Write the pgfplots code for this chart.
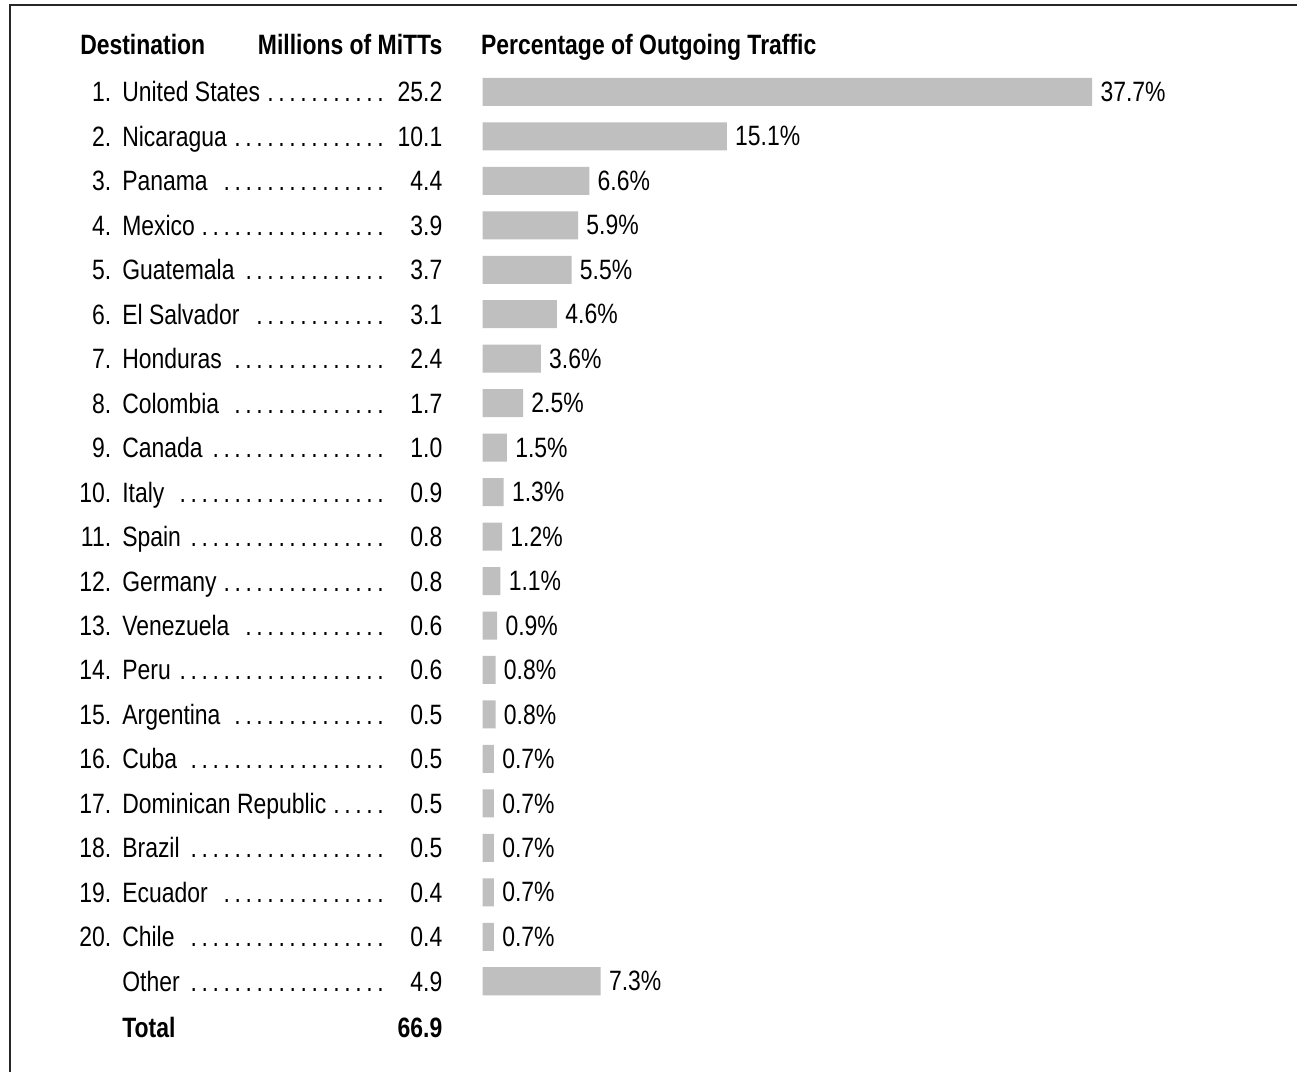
\documentclass[border=0pt]{standalone}
\usepackage{fontspec}
\setmainfont{Liberation Sans}[FakeStretch=0.82]
\usepackage{pgfplots}
\usepackage{pgfplotstable}
\pgfplotsset{compat=1.18}

\pgfplotstableread[col sep=comma]{
rank,name,mitts,pct
1.,United States,25.2,37.7
2.,Nicaragua,10.1,15.1
3.,Panama,4.4,6.6
4.,Mexico,3.9,5.9
5.,Guatemala,3.7,5.5
6.,El Salvador,3.1,4.6
7.,Honduras,2.4,3.6
8.,Colombia,1.7,2.5
9.,Canada,1.0,1.5
10.,Italy,0.9,1.3
11.,Spain,0.8,1.2
12.,Germany,0.8,1.1
13.,Venezuela,0.6,0.9
14.,Peru,0.6,0.8
15.,Argentina,0.5,0.8
16.,Cuba,0.5,0.7
17.,Dominican Republic,0.5,0.7
18.,Brazil,0.5,0.7
19.,Ecuador,0.4,0.7
20.,Chile,0.4,0.7
{},Other,4.9,7.3
}\traffic

% name with dot leaders up to the value column
\newcommand\leader[1]{\makebox[136pt][l]{#1\hspace{2pt}\leaders\hbox to 5.5pt{\hss.\hss}\hfill}}

\begin{document}
\begin{tikzpicture}[font=\fontsize{14}{16}\selectfont,
  hd/.style={font=\fontsize{14}{16}\selectfont\bfseries, inner sep=0pt, yshift=-5pt}]
\begin{axis}[
  hide axis, clip=false, scale only axis,
  width=649pt, height=536.5pt,
  xmin=-29.85, xmax=50.37,
  ymin=-2.067, ymax=22.045,
  y dir=reverse,
  txt/.style={draw=none, mark=none, forget plot,
    point meta=explicit symbolic,
    nodes near coords style={text=black, inner sep=0pt, yshift=-5pt}},
]
% bars
\addplot[xbar, bar width=0.63, fill=black!25, draw=none,
  point meta=explicit symbolic,
  nodes near coords={\pgfplotspointmeta\%},
  nodes near coords style={anchor=west, text=black, inner sep=0pt, xshift=4pt}]
  table[x=pct, y expr=\coordindex, meta=pct]{\traffic};
% ranks
\addplot[txt, nodes near coords, nodes near coords style={anchor=base east}]
  table[x expr=-22.95, y expr=\coordindex, meta=rank]{\traffic};
% names
\addplot[txt, nodes near coords={\leader{\pgfplotspointmeta}},
  nodes near coords style={anchor=base west}]
  table[x expr=-22.31, y expr=\coordindex, meta=name]{\traffic};
% values
\addplot[txt, nodes near coords, nodes near coords style={anchor=base east}]
  table[x expr=-2.47, y expr=\coordindex, meta=mitts]{\traffic};

% headers
\node[hd, anchor=base west] at (axis cs:-24.91,-1.056) {Destination};
\node[hd, anchor=base east] at (axis cs:-2.47,-1.056) {Millions of MiTTs};
\node[hd, anchor=base west] at (axis cs:-0.12,-1.056) {Percentage of Outgoing Traffic};
% total row
\node[hd, anchor=base west] at (axis cs:-22.31,21.05) {Total};
\node[hd, anchor=base east] at (axis cs:-2.47,21.05) {66.9};

% frame (top and left edges)
\draw[black!85, line width=1pt] (axis cs:-29.23,22.045) -- (axis cs:-29.23,-1.955) -- (axis cs:50.37,-1.955);
\path (rel axis cs:0,0) rectangle (rel axis cs:1,1);
\end{axis}
\end{tikzpicture}
\end{document}
